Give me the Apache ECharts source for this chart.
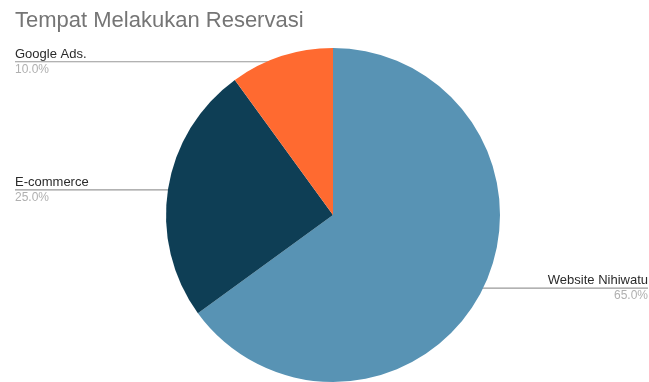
<!DOCTYPE html>
<html>
<head>
<meta charset="utf-8">
<script src="https://cdn.jsdelivr.net/npm/echarts@6/dist/echarts.min.js"></script>
<style>
html,body{margin:0;padding:0;background:#fff;}
#main{width:649px;height:382px;}
</style>
</head>
<body>
<div id="main"></div>
<script>
// data
var categories = ['Website Nihiwatu', 'E-commerce', 'Google Ads.'];
var values = [65, 25, 10];
var colors = ['#5893b4', '#0e3e55', '#ff6a30'];

var cx = 333, cy = 215, R = 167;

var pieData = [];
for (var i = 0; i < categories.length; i++) {
    var item = { name: categories[i], value: values[i], itemStyle: { color: colors[i] } };
    if (i == 0) item.label = { edgeDistance: 1 };
    pieData.push(item);
}

// titik awal garis label (sedikit di dalam irisan)
function dotPoint(idx) {
    var total = 0, cum = 0;
    for (var i = 0; i < values.length; i++) total += values[i];
    for (var i = 0; i < idx; i++) cum += values[i];
    var theta = (cum + values[idx] / 2) / total * Math.PI * 2;
    var rr = R * 0.965;
    return [cx + rr * Math.sin(theta), cy - rr * Math.cos(theta)];
}

var myChart = echarts.init(document.getElementById('main'));

var option = {
    backgroundColor: '#fff',
    animation: false,
    title: {
        text: 'Tempat Melakukan Reservasi',
        left: 10,
        top: 5,
        textStyle: {
            fontFamily: 'Liberation Sans',
            fontSize: 22,
            fontWeight: 'normal',
            color: '#757575'
        }
    },
    series: [{
        type: 'pie',
        center: [cx, cy],
        radius: R,
        startAngle: 90,
        clockwise: true,
        avoidLabelOverlap: false,
        data: pieData,
        itemStyle: { borderWidth: 0 },
        label: {
            position: 'outer',
            alignTo: 'edge',
            edgeDistance: 15,
            formatter: function (p) {
                return '{name|' + p.name + '}\n{pct|' + p.percent.toFixed(1) + '%}';
            },
            rich: {
                name: { fontFamily: 'Liberation Sans', fontSize: 13, color: '#2a2a2a', lineHeight: 15 },
                pct: { fontFamily: 'Liberation Sans', fontSize: 12, color: '#b0b0b0', lineHeight: 15 }
            }
        },
        labelLine: {
            show: true,
            length: 0,
            length2: 10,
            lineStyle: { color: '#999', width: 1.2 }
        },
        labelLayout: function (params) {
            var isLeft = params.labelRect.x < myChart.getWidth() / 2;
            var d = dotPoint(params.dataIndex);
            var endX = isLeft ? params.labelRect.x : params.labelRect.x + params.labelRect.width;
            return {
                y: d[1],
                labelLinePoints: [[d[0], d[1]], [d[0], d[1]], [endX, d[1]]]
            };
        }
    }]
};

myChart.setOption(option);
</script>
</body>
</html>
